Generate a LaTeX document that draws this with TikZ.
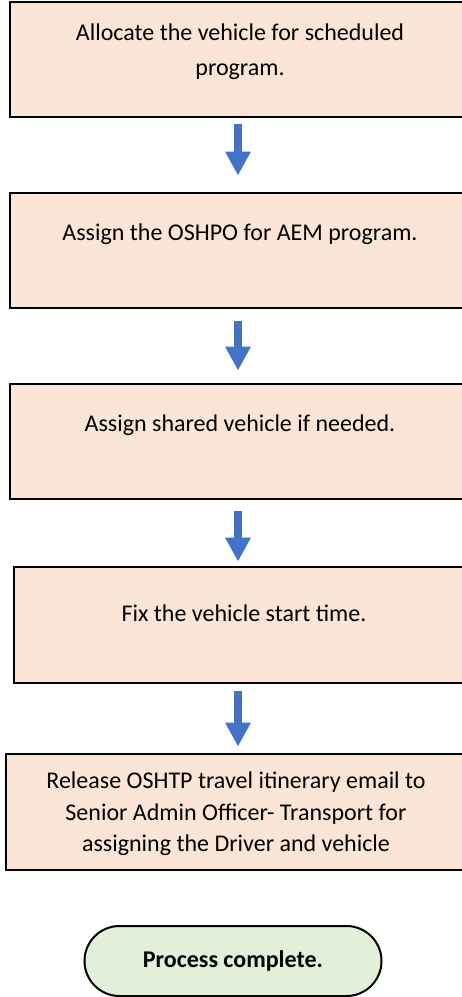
\documentclass[tikz,border=0pt]{standalone}
\usepackage{fontspec}
\setmainfont{Carlito}
\usetikzlibrary{arrows.meta}
\definecolor{stepfill}{HTML}{FBE5D6}
\definecolor{donefill}{HTML}{E2F0D9}
\definecolor{flowblue}{HTML}{4472C4}

\begin{document}
\begin{tikzpicture}[
		x=0.5pt, y=-0.5pt,
		every node/.style={font=\fontsize{12}{17.5}\selectfont},
		stepbox/.style={
			draw, line width=1.4pt, fill=stepfill,
			minimum width=230pt, minimum height=57.5pt,
			align=center, inner sep=0pt,
		},
		donebox/.style={
			draw, line width=1pt, fill=donefill, rounded corners=17.5pt,
			minimum width=148.5pt, minimum height=35pt,
			font=\fontsize{12}{14}\selectfont\bfseries,
		},
		flow/.style={draw=flowblue, line width=4pt, -{Triangle[length=12pt, width=12pt]}},
		]
		
		\useasboundingbox (0,0) rectangle (461,997);
		\fill[white] (0,0) rectangle (461,997);
		\coordinate (lane) at (238,0);
		
		\node[stepbox, text depth=10pt] (allocate) at (240, 59.5) {Allocate the vehicle for scheduled\\program.};
		\node[stepbox, text depth=18pt] (oshpo)    at (240,250.5) {Assign the OSHPO for AEM program.};
		\node[stepbox, text depth=18pt] (shared)   at (240,441.5) {Assign shared vehicle if needed.};
		\node[stepbox, text depth=12pt, minimum height=58pt] (start) at (244,625) {Fix the vehicle start time.};
		\node[stepbox, text depth=-2.5pt, minimum height=58pt, font=\fontsize{12}{15.75}\selectfont] (release) at (236,812)
		{Release OSHTP travel itinerary email to\\Senior Admin Officer- Transport for\\assigning the Driver and vehicle};
		\node[donebox] (done) at (233,961) {Process complete.};
		
		\draw[flow, shorten <=3pt, shorten >=8pt] (allocate.south -| lane) -- (oshpo.north -| lane);
		\draw[flow, shorten <=6pt, shorten >=6pt] (oshpo.south -| lane)    -- (shared.north -| lane);
		\draw[flow, shorten <=5.5pt, shorten >=2pt] (shared.south -| lane) -- (start.north -| lane);
		\draw[flow, shorten <=3.5pt, shorten >=3pt] (start.south -| lane)  -- (release.north -| lane);
		
	\end{tikzpicture}
\end{document}
